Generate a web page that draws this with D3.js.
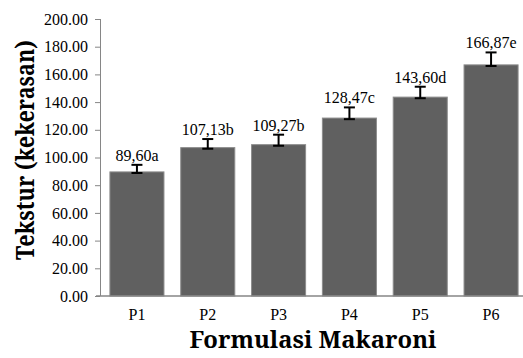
<!DOCTYPE html>
<html>
<head>
<meta charset="utf-8">
<script src="https://cdn.jsdelivr.net/npm/d3@7"></script>
<style>
body { margin: 0; background: #fff; }
svg text { font-family: 'Liberation Serif', 'Times New Roman', serif; }
svg text.title { font-family: 'Noto Serif', 'DejaVu Serif', serif; font-weight: bold; }
</style>
</head>
<body>
<script>
var categories = ["P1", "P2", "P3", "P4", "P5", "P6"];
var values = [89.60, 107.13, 109.27, 128.47, 143.60, 166.87];
var errPlus = [5.1, 6.2, 7.2, 7.7, 7.5, 9.0];
var errMinus = [0.8, 0.8, 0.8, 0.8, 0.8, 0.8];
var valueLabels = ["89,60a", "107,13b", "109,27b", "128,47c", "143,60d", "166,87e"];
var yTicks = [0, 20, 40, 60, 80, 100, 120, 140, 160, 180, 200];

var width = 523, height = 358;
var margin = {top: 19, right: -5, bottom: 62, left: 100};
var plotW = width - margin.left - margin.right,
	plotH = height - margin.top - margin.bottom;

var data = categories.map(function(c, i) {
	return { cat: c, value: values[i], plus: errPlus[i], minus: errMinus[i], label: valueLabels[i] };
});

var svg = d3.select("body").append("svg")
	.attr("width", width)
	.attr("height", height);

var g = svg.append("g")
	.attr("transform", "translate(" + margin.left + "," + margin.top + ")");

var x = d3.scaleBand()
	.domain(categories)
	.range([0, plotW])
	.paddingInner(0.237)
	.paddingOuter(0.14);
var y = d3.scaleLinear()
	.domain([0, 200])
	.range([plotH, 0]);

// bars
g.selectAll(".bar").data(data)
	.enter().append("rect")
	.attr("class", "bar")
	.attr("x", function(d) { return x(d.cat); })
	.attr("width", x.bandwidth())
	.attr("y", function(d) { return y(d.value); })
	.attr("height", function(d) { return plotH - y(d.value); })
	.attr("fill", "#606060")
	.attr("stroke", "#8c8c8c")
	.attr("stroke-width", 1);

// error bars
var cx = function(d) { return x(d.cat) + x.bandwidth() / 2; };
var eb = g.selectAll(".err").data(data).enter().append("g")
	.attr("stroke", "#000")
	.attr("stroke-width", 2);
eb.append("line")
	.attr("x1", cx).attr("x2", cx)
	.attr("y1", function(d) { return y(d.value + d.plus); })
	.attr("y2", function(d) { return y(d.value - d.minus); });
eb.append("line")
	.attr("x1", function(d) { return cx(d) - 5.5; })
	.attr("x2", function(d) { return cx(d) + 5.5; })
	.attr("y1", function(d) { return y(d.value + d.plus); })
	.attr("y2", function(d) { return y(d.value + d.plus); });
eb.append("line")
	.attr("x1", function(d) { return cx(d) - 5.5; })
	.attr("x2", function(d) { return cx(d) + 5.5; })
	.attr("y1", function(d) { return y(d.value - d.minus); })
	.attr("y2", function(d) { return y(d.value - d.minus); });

// value labels
g.selectAll(".vlabel").data(data)
	.enter().append("text")
	.attr("x", cx)
	.attr("y", function(d) { return y(d.value + d.plus) - 4; })
	.attr("text-anchor", "middle")
	.attr("font-size", "16px")
	.attr("fill", "#000")
	.text(function(d) { return d.label; });

// y axis
var yAxis = g.append("g")
	.call(d3.axisLeft(y).tickValues(yTicks).tickSize(5).tickPadding(7)
		.tickFormat(function(d) { return d3.format(".2f")(d); }));
yAxis.attr("font-family", null);
yAxis.select(".domain").attr("stroke", "#868686").attr("d", "M0.5," + plotH + "V0");
yAxis.selectAll(".tick line").attr("stroke", "#868686");
yAxis.selectAll(".tick text").attr("font-size", "16px").attr("fill", "#000");

// x axis
var xAxis = g.append("g")
	.attr("transform", "translate(0," + plotH + ")")
	.call(d3.axisBottom(x).tickSize(0).tickPadding(13));
xAxis.attr("font-family", null);
xAxis.select(".domain").attr("stroke", "#868686").attr("stroke-width", 1.5).attr("d", "M-4,0H" + plotW);
xAxis.selectAll(".tick text").attr("font-size", "16px").attr("fill", "#000");

// axis titles
svg.append("text")
	.attr("class", "title")
	.attr("x", 313)
	.attr("y", 348)
	.attr("text-anchor", "middle")
	.attr("font-size", "23px")
	.attr("textLength", 247)
	.attr("lengthAdjust", "spacingAndGlyphs")
	.text("Formulasi Makaroni");

svg.append("text")
	.attr("class", "title")
	.attr("transform", "translate(34,150) rotate(-90)")
	.attr("text-anchor", "middle")
	.attr("font-size", "25px")
	.attr("textLength", 220)
	.attr("lengthAdjust", "spacingAndGlyphs")
	.text("Tekstur (kekerasan)");
</script>
</body>
</html>
